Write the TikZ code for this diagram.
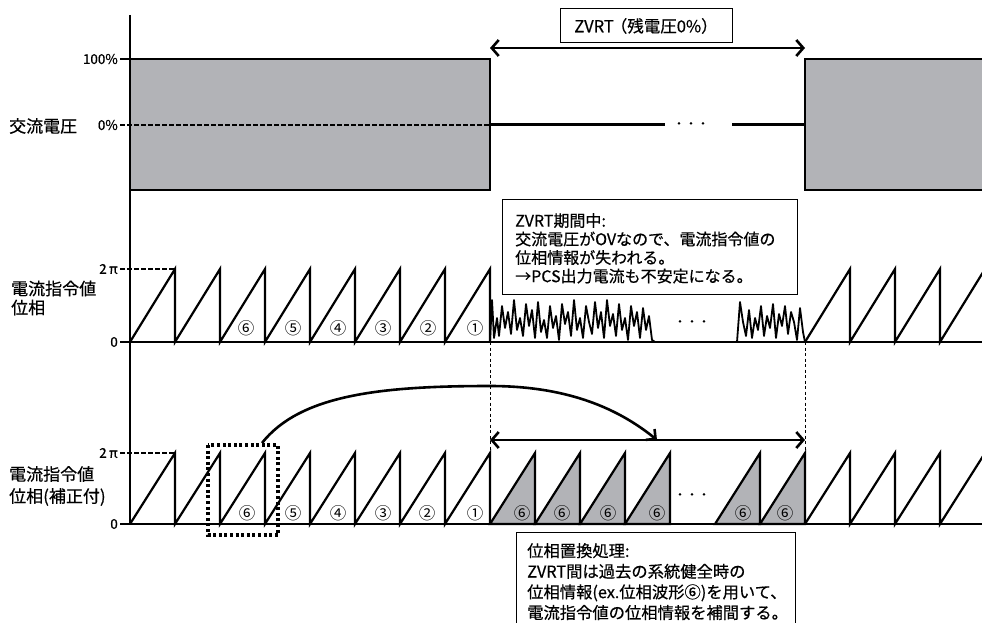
\documentclass[tikz,border=0pt]{standalone}
\usepackage{fontspec}
\newfontfamily\jp[FakeBold=0.5]{Noto Sans CJK JP}
\newfontfamily\jpc{Noto Sans CJK JP}
\usetikzlibrary{arrows.meta}
\definecolor{fillgray}{RGB}{178,179,183}
\begin{document}
\begin{tikzpicture}[x=1pt,y=-1pt,
  saw/.style={line width=2.2pt, line join=miter, miter limit=20},
  axisline/.style={line width=1.3pt},
  fillrect/.style={draw, fill=fillgray, line width=2.4pt},
  guide/.style={line width=1.1pt, dash pattern=on 4.5pt off 2.5pt},
  vguide/.style={line width=0.9pt, dash pattern=on 3pt off 2.5pt},
  noise/.style={line width=1.8pt, line join=round},
  dblarrow/.style={line width=2.6pt, {Straight Barb[length=7pt,width=16pt]}-{Straight Barb[length=7pt,width=16pt]}},
  curvearrow/.style={line width=2.6pt, -{Straight Barb[length=7pt,width=14pt]}},
  boxline/.style={draw, line width=1pt, fill=white, inner sep=0pt, anchor=north west},
  notetext/.style={inner sep=0pt, align=left, anchor=north west},
  lbl/.style={font=\jp\fontsize{13.5}{15}\selectfont, inner sep=0pt, anchor=east},
  side/.style={inner sep=0pt, align=left, anchor=west},
  circ/.style={font=\jpc\fontsize{16.5}{17}\selectfont, inner sep=0pt},
  dots/.style={font=\jp\fontsize{12}{12}\selectfont, inner sep=0pt},
  dottedbox/.style={line width=3.4pt, dash pattern=on 3pt off 2.6pt},
]
\useasboundingbox (0,0) rectangle (982,623);

% ---------- top panel: AC voltage ----------
\draw[fillrect] (130,59) rectangle (490,190);
\draw[fillrect] (805,59) rectangle (995,190);
\draw[guide] (120,125) -- (490,125);
\draw[axisline] (120,59) -- (130,59);
\coordinate (zl) at (490,125);
\coordinate (zm1) at (665,125);
\coordinate (zm2) at (732,125);
\coordinate (zr) at (805,125);
\draw[line width=3pt] (zl) -- (zm1);
\draw[line width=3pt] (zm2) -- (zr);
\node[dots] (dtop) at (691,125) {・・・};

\node[lbl] (l100) at (118,59) {100\%};
\node[lbl] (l0p) at (118,125) {0\%};
\node[side, font=\jp\fontsize{17}{19}\selectfont] (acv) at (9,126) {交流電圧};

\coordinate (za) at (490,48);
\coordinate (zb) at (805,48);
\draw[dblarrow] (za) -- (zb);
\node[draw, line width=1pt, fill=white, minimum width=172pt, minimum height=34pt, inner sep=0pt,
      font=\jp\fontsize{16.5}{18}\selectfont] (zlabel) at (646,26) {ZVRT\hspace{-3pt}（残電圧0\%）};

% vertical axis
\draw[axisline] (130,15) -- (130,524);

% ---------- middle panel: phase ----------
\draw[axisline] (120,342) -- (982,342);
\draw[guide] (120,269) -- (175,269);
\draw[saw] (130,342) \foreach \i in {1,...,8}{ -- ({130+45*\i},269) -- ({130+45*\i},342)};
\draw[saw] (805,342) -- (850,269) -- (850,342) -- (895,269) -- (895,342) -- (940,269) -- (940,342) -- (985,269);
\draw[noise] (490,342) -- (492,300) -- (494,338) -- (497,318) -- (499,336) -- (502,306) -- (505,328) -- (508,312) -- (511,334) -- (514,300) -- (517,330) -- (520,318) -- (523,336) -- (526,304) -- (529,326) -- (532,310) -- (535,338) -- (538,302) -- (541,332) -- (544,320) -- (547,338) -- (550,306) -- (553,328) -- (556,316) -- (559,340) -- (562,304) -- (565,324) -- (568,312) -- (571,336) -- (574,300) -- (577,330) -- (580,318) -- (583,338) -- (586,306) -- (589,322) -- (592,334) -- (595,302) -- (598,328) -- (601,312) -- (604,338) -- (607,300) -- (610,326) -- (613,314) -- (616,336) -- (619,304) -- (622,330) -- (625,318) -- (628,340) -- (631,306) -- (634,326) -- (637,312) -- (640,338) -- (643,308) -- (646,330) -- (649,316) -- (652,340) -- (655,342);
\draw[noise] (737,342) -- (740,302) -- (743,322) -- (746,336) -- (749,310) -- (752,338) -- (755,318) -- (758,330) -- (761,306) -- (764,336) -- (767,316) -- (770,328) -- (773,304) -- (776,338) -- (779,314) -- (782,326) -- (785,306) -- (788,334) -- (791,312) -- (794,322) -- (797,340) -- (800,308) -- (803,332) -- (805,342);
\node[dots] (dmid) at (692,323) {・・・};

\foreach \n/\x [count=\k] in {⑥/246,⑤/293,④/338,③/383,②/428,①/475} {
  \node[circ] (ma\k) at (\x,328) {\n};
}

\node[lbl] (l2pa) at (118,269) {2\,π};
\node[lbl] (l0a) at (118,342) {0};
\node[side, font=\jp\fontsize{17}{19}\selectfont] (ph1) at (11,298) {電流指令値\\位相};

% note box (middle)
\node[boxline, minimum width=295pt, minimum height=95pt] (box1) at (502,199) {};
\node[notetext, font=\jp\fontsize{16}{18.5}\selectfont] (txt1) at ([xshift=13pt,yshift=-14pt]box1.north west)
  {ZVRT期間中:\\交流電圧がOVなので、電流指令値の\\位相情報が失われる。\\→PCS出力電流も不安定になる。};

% dashed vertical guides
\coordinate (g1t) at (490,342);
\coordinate (g1b) at (490,453);
\coordinate (g2t) at (805,342);
\coordinate (g2b) at (805,453);
\draw[vguide] (g1t) -- (g1b);
\draw[vguide] (g2t) -- (g2b);

% ---------- bottom panel: corrected phase ----------
\foreach \x in {490,535,580,625,715,760} {
  \filldraw[saw, fill=fillgray] (\x,524) -- ({\x+45},453) -- ({\x+45},524) -- cycle;
}
\draw[axisline] (120,524) -- (982,524);
\draw[guide] (120,453) -- (175,453);
\draw[saw] (130,524) \foreach \i in {1,...,8}{ -- ({130+45*\i},453) -- ({130+45*\i},524)};
\draw[saw] (805,524) -- (850,453) -- (850,524) -- (895,453) -- (895,524) -- (940,453) -- (940,524) -- (985,453);
\node[dots] (dbot) at (692,496) {・・・};

\foreach \n/\x [count=\k] in {⑥/247,⑤/293,④/338,③/383,②/427,①/475} {
  \node[circ] (mb\k) at (\x,513) {\n};
}
\foreach \x [count=\k] in {522,562,608,657,743,785} {
  \node[circ] (mc\k) at (\x,513) {⑥};
}

\node[lbl] (l2pb) at (118,453) {2\,π};
\node[lbl] (l0b) at (118,524) {0};
\node[side, font=\jp\fontsize{17}{22}\selectfont] (ph2) at (9,486) {電流指令値\\位相(補正付)};

% dotted selection box
\draw[dottedbox] (208,445) rectangle (278,535);

% arrows in bottom panel
\coordinate (ba) at (490,440);
\coordinate (bb) at (805,440);
\draw[dblarrow] (ba) -- (bb);
\coordinate (cs) at (262,443);
\coordinate (cm) at (490,386);
\coordinate (ce) at (657,440);
\draw[curvearrow] (cs) .. controls (300,395) and (380,386) .. (cm) .. controls (570,386) and (620,410) .. (ce);

% note box (bottom)
\node[boxline, minimum width=279pt, minimum height=110pt] (box2) at (516,532) {};
\node[notetext, font=\jp\fontsize{16.3}{20.6}\selectfont] (txt2) at ([xshift=11pt,yshift=-11pt]box2.north west)
  {位相置換処理:\\ZVRT間は過去の系統健全時の\\位相情報(ex.位相波形⑥)を用いて、\\電流指令値の位相情報を補間する。};
\end{tikzpicture}
\end{document}
